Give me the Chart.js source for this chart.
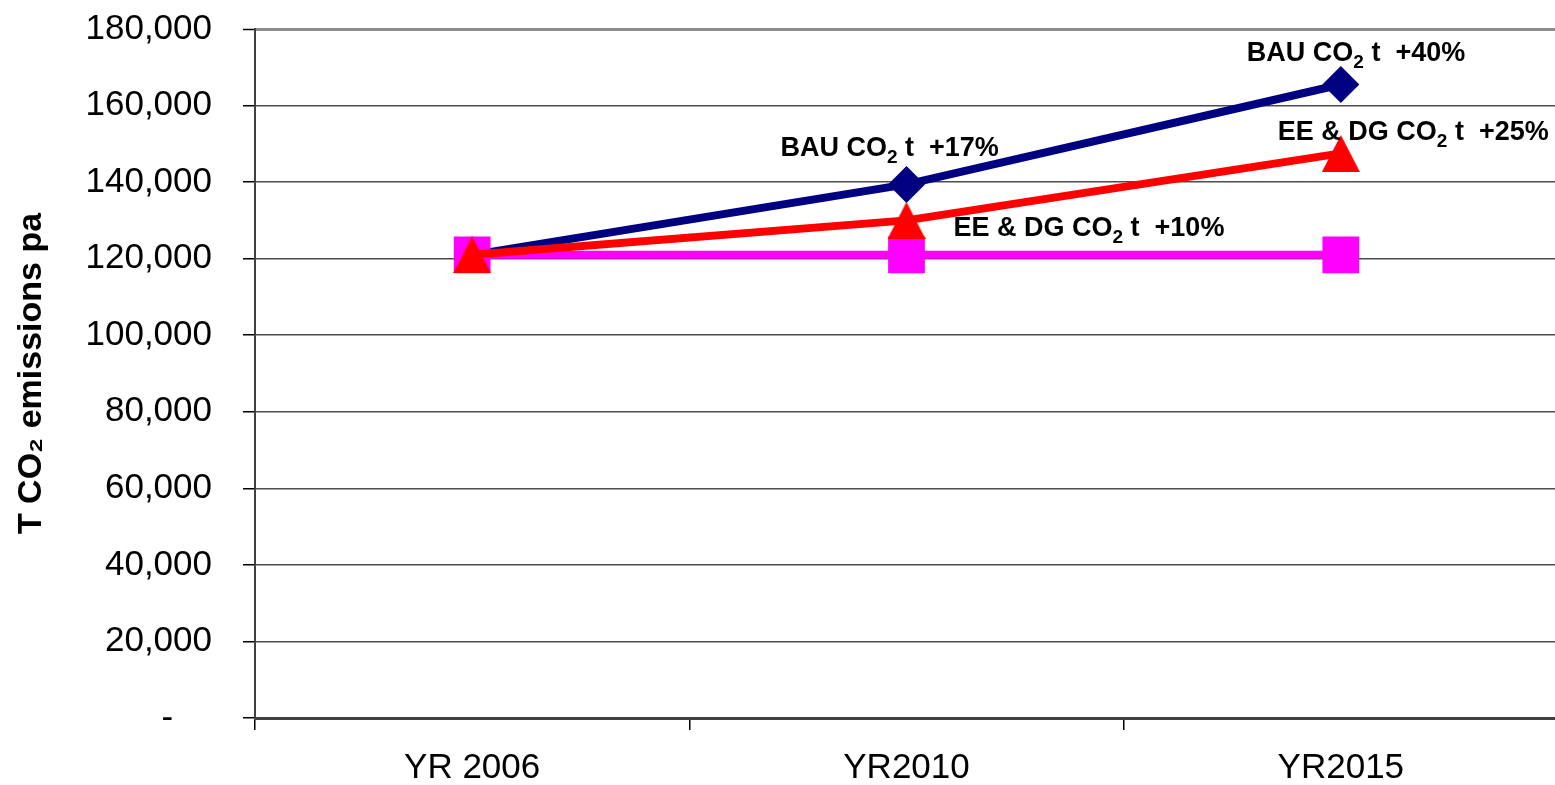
<!DOCTYPE html>
<html>
<head>
<meta charset="utf-8">
<script src="https://cdn.jsdelivr.net/npm/chart.js@4"></script>
<style>
  html, body { margin: 0; padding: 0; background: #fff; overflow: hidden; }
  canvas { display: block; }
</style>
</head>
<body>
<canvas id="co2Chart" width="1558" height="785"></canvas>
<script>
var years = ['YR 2006', 'YR2010', 'YR2015'];
var bauTonnes = [121000, 139400, 165500];
var eeDgTonnes = [121000, 130000, 147500];
var flatTonnes = [121000, 121000, 121000];
var yTicks = [0, 20000, 40000, 60000, 80000, 100000, 120000, 140000, 160000, 180000];
var yTickLabels = ['-', '20,000', '40,000', '60,000', '80,000', '100,000', '120,000', '140,000', '160,000', '180,000'];
var bauNotes = [null, '+17%', '+40%'];
var eeDgNotes = [null, '+10%', '+25%'];

var FONT = '"Liberation Sans", Arial, sans-serif';

// where each note sits relative to its point (left edge, baseline)
var noteOffsets = [
  [null, [-126, -28], [-94, -24]],
  [null, [47, 16], [-63, -13]]
];

// Excel-style triangle marker, centred on its bounding box
function makeTriangle(w, h, color) {
  var c = document.createElement('canvas');
  c.width = w;
  c.height = h;
  var g = c.getContext('2d');
  g.fillStyle = color;
  g.beginPath();
  g.moveTo(w / 2, 0);
  g.lineTo(w, h);
  g.lineTo(0, h);
  g.closePath();
  g.fill();
  return c;
}

var pointNotes = {
  id: 'pointNotes',
  afterDatasetsDraw: function (chart) {
    var ctx = chart.ctx;
    var groups = [
      { ds: 0, prefix: 'BAU CO', notes: bauNotes },
      { ds: 1, prefix: 'EE & DG CO', notes: eeDgNotes }
    ];
    ctx.save();
    ctx.fillStyle = '#000';
    ctx.textBaseline = 'alphabetic';
    ctx.textAlign = 'left';
    groups.forEach(function (grp) {
      var meta = chart.getDatasetMeta(grp.ds);
      grp.notes.forEach(function (note, i) {
        if (!note) return;
        var pt = meta.data[i];
        var off = noteOffsets[grp.ds][i];
        var x = pt.x + off[0];
        var y = pt.y + off[1];
        ctx.font = 'bold 27px ' + FONT;
        ctx.fillText(grp.prefix, x, y);
        x += ctx.measureText(grp.prefix).width;
        ctx.font = 'bold 19px ' + FONT;
        ctx.fillText('2', x, y + 7);
        x += ctx.measureText('2').width;
        ctx.font = 'bold 27px ' + FONT;
        ctx.fillText(' t  ' + note, x, y);
      });
    });
    ctx.restore();
  }
};

var ctx = document.getElementById('co2Chart').getContext('2d');
var co2Chart = new Chart(ctx, {
  type: 'line',
  data: {
    labels: years,
    datasets: [{
      label: 'BAU CO2 t',
      data: bauTonnes,
      borderColor: '#000080',
      backgroundColor: '#000080',
      borderWidth: 8,
      pointStyle: 'rectRot',
      pointRadius: 18.5,
      pointBorderWidth: 0,
      order: 2
    }, {
      label: 'EE & DG CO2 t',
      data: eeDgTonnes,
      borderColor: '#ff0000',
      backgroundColor: '#ff0000',
      borderWidth: 8,
      pointStyle: makeTriangle(38, 37, '#ff0000'),
      pointRadius: 19,
      pointBorderWidth: 0,
      order: 0
    }, {
      label: '2006 level',
      data: flatTonnes,
      borderColor: '#ff00ff',
      backgroundColor: '#ff00ff',
      borderWidth: 8,
      pointStyle: 'rect',
      pointRadius: 26,
      pointBorderWidth: 0,
      order: 1
    }]
  },
  options: {
    responsive: false,
    animation: false,
    clip: false,
    layout: {
      autoPadding: false,
      padding: { top: 29, right: 0, bottom: 0, left: 0 }
    },
    plugins: {
      legend: { display: false },
      tooltip: { enabled: false }
    },
    scales: {
      x: {
        offset: true,
        afterFit: function (scale) {
          scale.height = 67;
          scale.paddingLeft = 0;
          scale.paddingRight = 0;
        },
        border: { color: '#404040', width: 3 },
        grid: {
          offset: true,
          drawOnChartArea: false,
          tickLength: 12,
          color: '#000',
          lineWidth: 1.5
        },
        ticks: {
          color: '#000',
          font: { family: FONT, size: 35 },
          padding: 17,
          maxRotation: 0
        }
      },
      y: {
        min: 0,
        max: 180000,
        afterFit: function (scale) {
          scale.width = 255;
          scale.paddingTop = 0;
          scale.paddingBottom = 0;
        },
        afterBuildTicks: function (scale) {
          scale.ticks = yTicks.map(function (v) { return { value: v }; });
        },
        border: { color: '#404040', width: 2 },
        grid: {
          color: function (c) { return c.tick && c.tick.value === 180000 ? '#8c8c8c' : '#4d4d4d'; },
          lineWidth: function (c) { return c.tick && c.tick.value === 180000 ? 3 : 1.5; },
          tickColor: '#000',
          tickWidth: 1.5,
          tickLength: 12
        },
        ticks: {
          color: '#000',
          font: { family: FONT, size: 35 },
          padding: 31,
          callback: function (value) {
            var i = yTicks.indexOf(value);
            var text = yTickLabels[i];
            return value === 0 ? text + '    ' : text;
          }
        },
        title: {
          display: true,
          text: 'T CO\u2082 emissions pa',
          color: '#000',
          font: { family: FONT, size: 34, weight: 'bold' },
          padding: { top: 11, bottom: 0 }
        }
      }
    }
  },
  plugins: [pointNotes]
});
</script>
</body>
</html>
